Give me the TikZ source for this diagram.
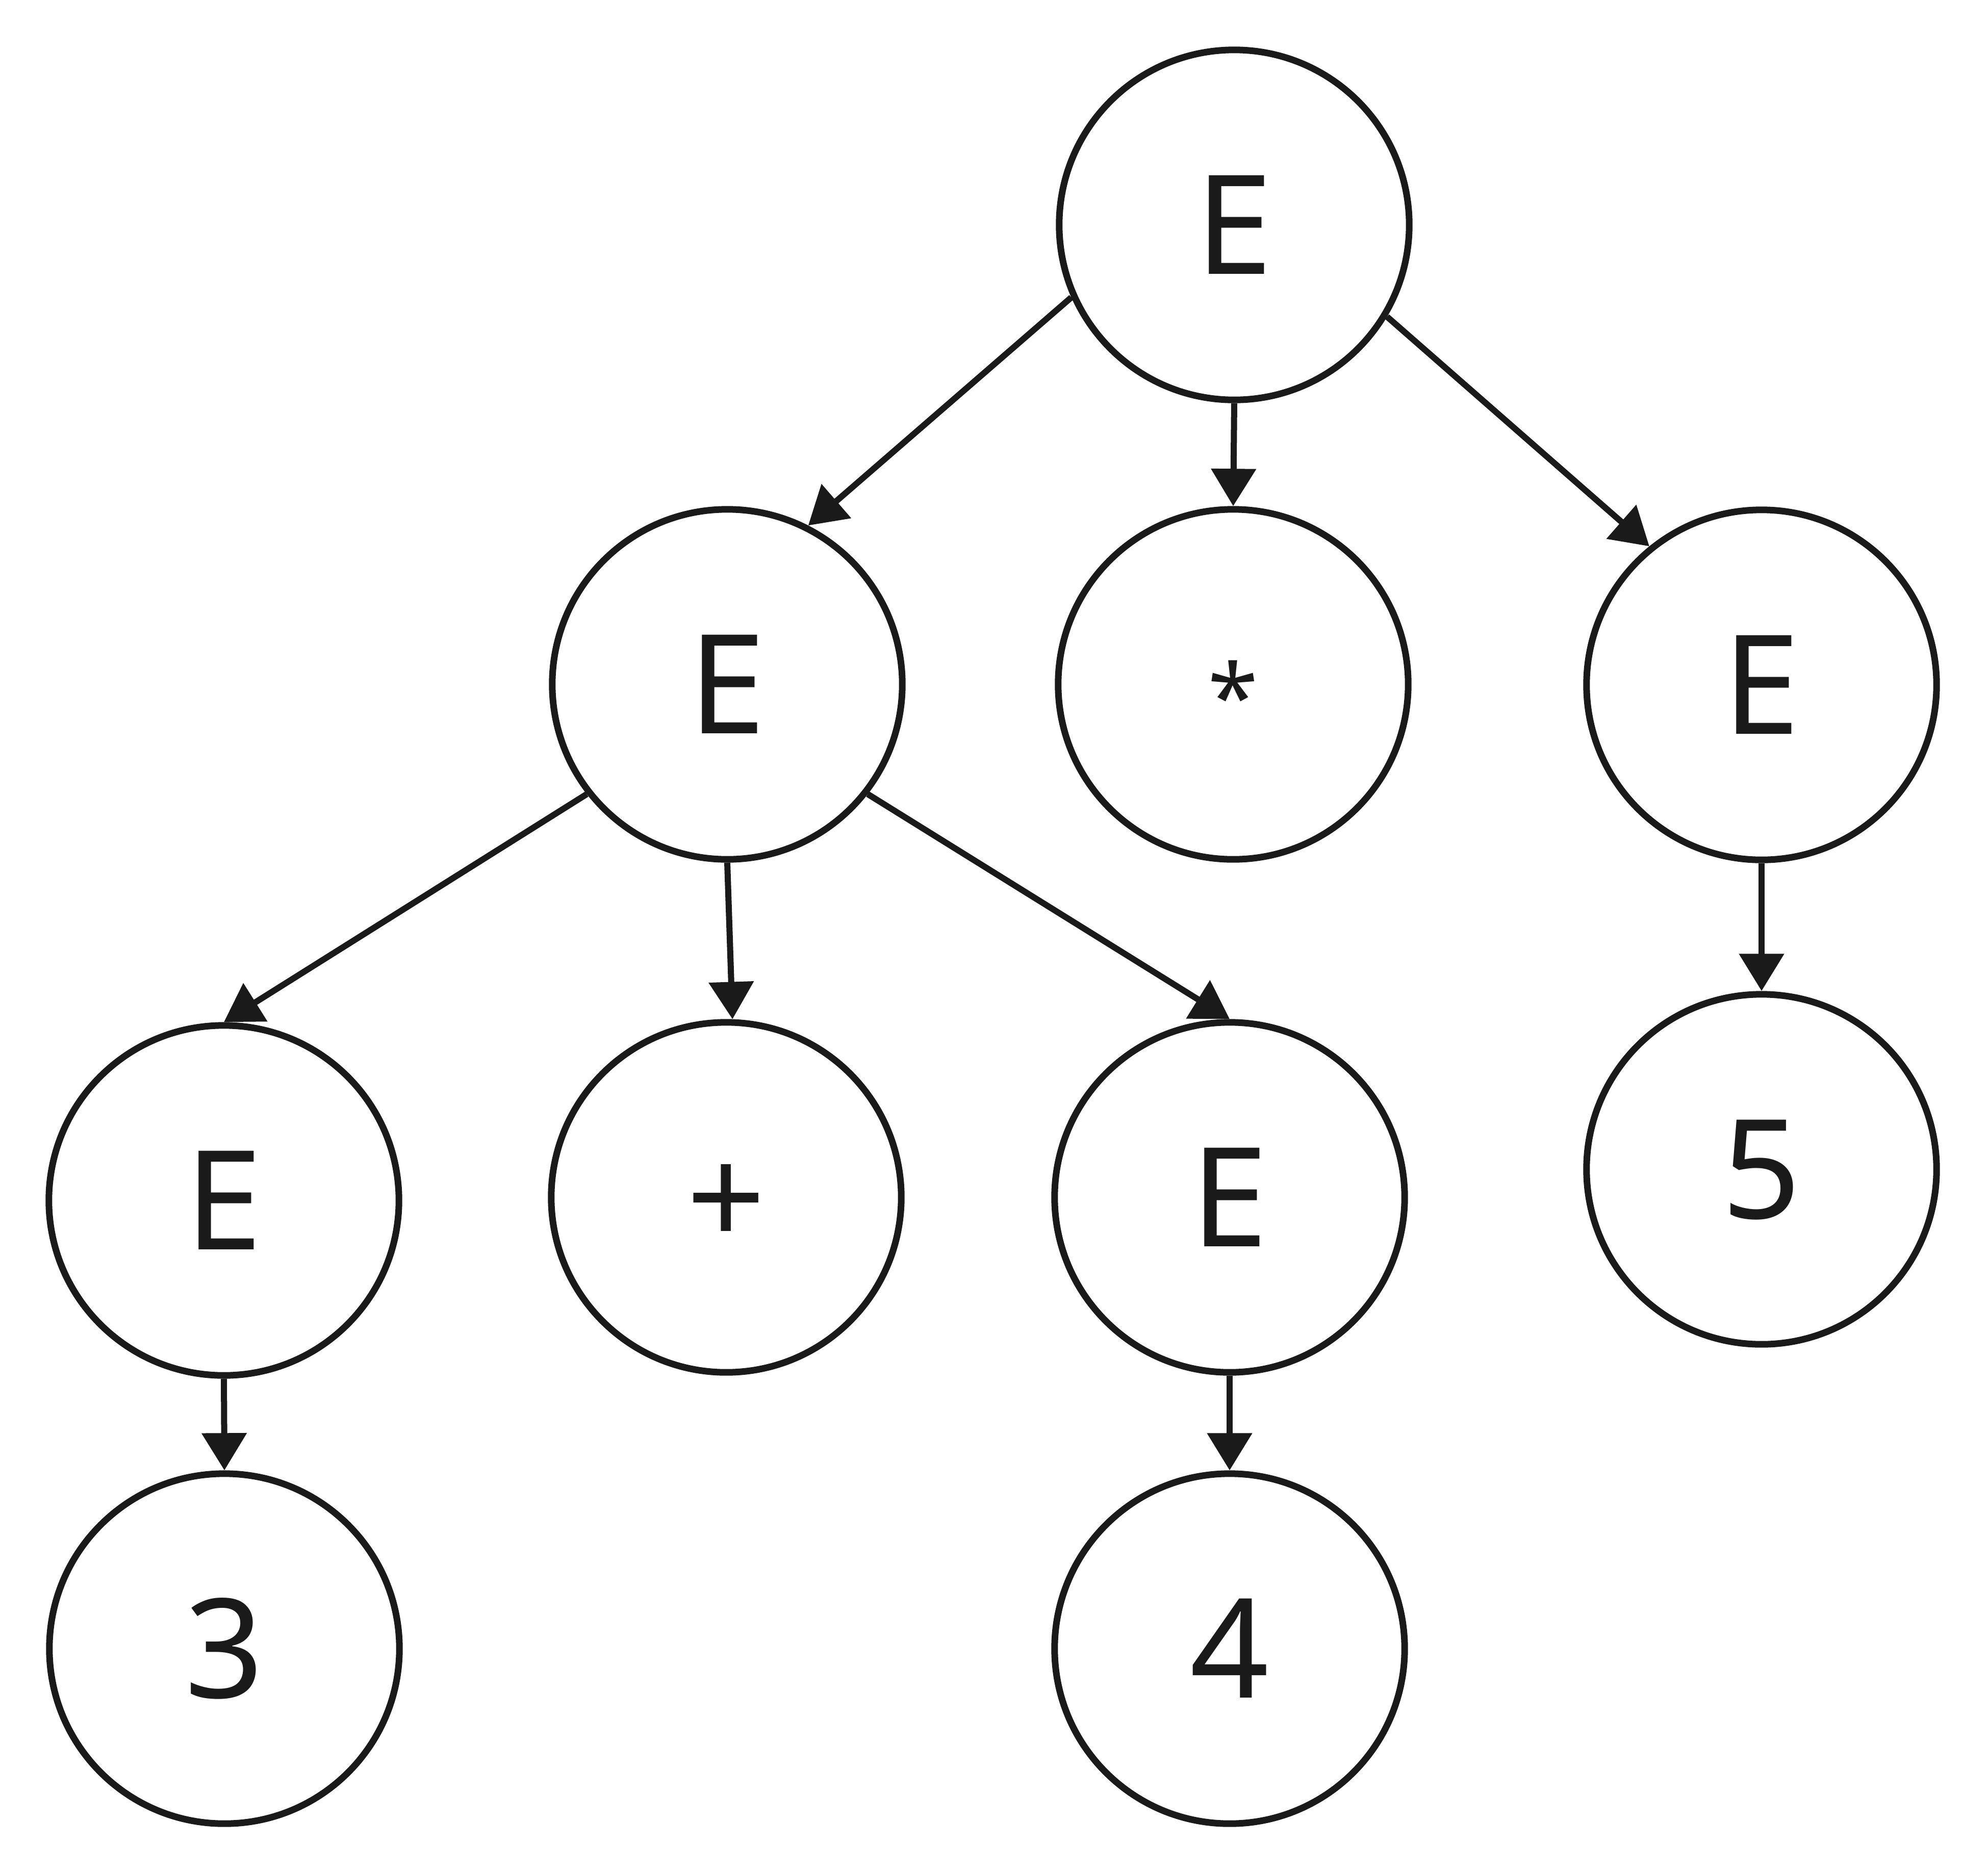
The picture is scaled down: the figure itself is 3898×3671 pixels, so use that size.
\documentclass[tikz,border=0pt]{standalone}
\usepackage{fontspec}
\setmainfont{Noto Sans}
\usetikzlibrary{arrows.meta}
\definecolor{ink}{HTML}{1A1A1A}
\begin{document}
\begin{tikzpicture}[x=0.01cm,y=-0.01cm,
  tnode/.style={circle,draw=ink,line width=0.13cm,minimum size=6.86cm,inner sep=0pt,
    text=ink,font=\fontsize{77}{92}\selectfont,text height=55pt,text depth=0pt},
  edge/.style={draw=ink,line width=0.12cm,-{Triangle[length=0.73cm,width=0.86cm]}}]
\useasboundingbox (0,0) rectangle (3898,3671);
% tree nodes
\node[tnode] (root)  at (2420,441)  {E};
\node[tnode] (el)    at (1426,1342) {E};
\node[tnode,text height=0pt,font=\fontsize{51}{60}\selectfont]
                     (star)  at (2418,1342) {\raisebox{-0.5em}{*}};
\node[tnode] (er)    at (3454,1343) {E};
\node[tnode] (ebl)   at (439,2354)  {E};
\node[tnode] (plus)  at (1424,2348) {+};
\node[tnode] (em)    at (2411,2348) {E};
\node[tnode] (five)  at (3454,2293) {5};
\node[tnode] (three) at (440,3233)  {3};
\node[tnode] (four)  at (2411,3233) {4};
% connectors
\draw[edge] (root.204.5) -- (el.63.3);
\draw[edge] (root.south) -- (star.north);
\draw[edge] (root.-31) -- (er.129.7);
\draw[edge] (el.218.5) -- (ebl.north);
\draw[edge] (el.south) -- (plus.88);
\draw[edge] (el.-38.8) -- (em.north);
\draw[edge] (er.south) -- (five.north);
\draw[edge] (ebl.south) -- (three.north);
\draw[edge] (em.south) -- (four.north);
\end{tikzpicture}
\end{document}
